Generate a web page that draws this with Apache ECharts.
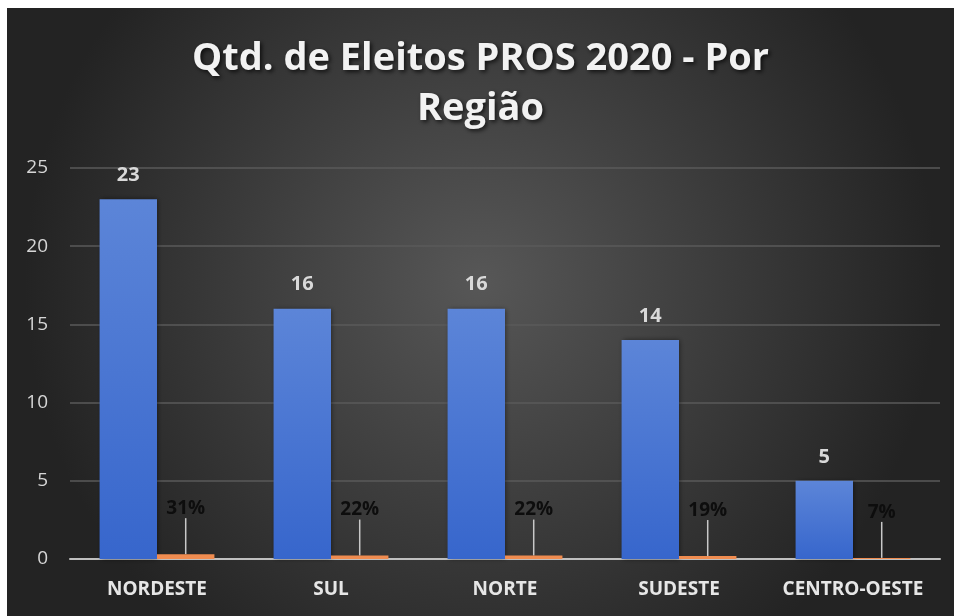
<!DOCTYPE html>
<html>
<head>
<meta charset="utf-8">
<script src="https://cdn.jsdelivr.net/npm/echarts@6/dist/echarts.min.js"></script>
<style>
  html, body { margin: 0; padding: 0; background: #ffffff; }
  #chart { position: absolute; left: 7px; top: 8px; width: 947px; height: 608px; }
</style>
</head>
<body>
<div id="chart"></div>
<script>
// dados do gráfico
const regioes = ['NORDESTE', 'SUL', 'NORTE', 'SUDESTE', 'CENTRO-OESTE']
const eleitos = [23, 16, 16, 14, 5]
const percentuais = [0.31, 0.22, 0.22, 0.19, 0.07]
const ticksY = [0, 5, 10, 15, 20, 25]

const chart = echarts.init(document.getElementById('chart'))

const option = {
  backgroundColor: {
    type: 'radial', x: 0.5, y: 0.45, r: 0.75,
    colorStops: [
      { offset: 0, color: '#575757' },
      { offset: 1, color: '#232323' }
    ]
  },
  title: {
    text: 'Qtd. de Eleitos PROS 2020 - Por\nRegião',
    left: 'center',
    top: 21,
    textStyle: {
      color: '#f2f2f2',
      fontFamily: 'Open Sans',
      fontWeight: 'bold',
      fontSize: 38,
      lineHeight: 50,
      textShadowColor: 'rgba(0,0,0,0.7)',
      textShadowBlur: 4,
      textShadowOffsetX: 2,
      textShadowOffsetY: 2
    }
  },
  grid: { left: 63, right: 14, top: 160, bottom: 57 },
  xAxis: {
    type: 'category',
    data: regioes,
    axisTick: { show: false },
    axisLine: { lineStyle: { color: '#bfbfbf', width: 2 } },
    axisLabel: {
      interval: 0,
      color: '#e6e6e6',
      fontFamily: 'Open Sans',
      fontWeight: 'bold',
      fontSize: 19,
      margin: 21
    }
  },
  yAxis: {
    type: 'value',
    min: ticksY[0],
    max: ticksY[ticksY.length - 1],
    interval: 5,
    axisLine: { show: false },
    axisTick: { show: false },
    splitLine: { lineStyle: { color: '#5a5a5a', width: 1.5 } },
    axisLabel: {
      color: '#d6d6d6',
      fontFamily: 'Open Sans',
      fontSize: 19,
      margin: 22
    }
  },
  series: [
    {
      type: 'bar',
      data: eleitos,
      barGap: '0%',
      barCategoryGap: '34%',
      itemStyle: {
        color: {
          type: 'linear', x: 0, y: 0, x2: 0, y2: 1,
          colorStops: [
            { offset: 0, color: '#5c85d8' },
            { offset: 1, color: '#3766cc' }
          ]
        },
        shadowColor: 'rgba(0,0,0,0.5)',
        shadowBlur: 5,
        shadowOffsetX: 1
      },
      label: {
        show: true,
        position: 'top',
        distance: 14,
        color: '#d9d9d9',
        fontFamily: 'Open Sans',
        fontWeight: 'bold',
        fontSize: 20
      }
    },
    {
      type: 'bar',
      data: percentuais,
      itemStyle: { color: '#f08c50' },
      label: {
        show: true,
        position: 'top',
        distance: 5,
        padding: [0, 0, 9, 0],
        formatter: p => Math.round(p.value * 100) + '%',
        color: '#0d0d0d',
        fontFamily: 'Open Sans',
        fontWeight: 'bold',
        fontSize: 19
      },
      labelLayout: { dy: -22 },
      labelLine: { show: true, lineStyle: { color: '#c8c8c8', width: 1.5 } }
    }
  ]
}

chart.setOption(option)
</script>
</body>
</html>
